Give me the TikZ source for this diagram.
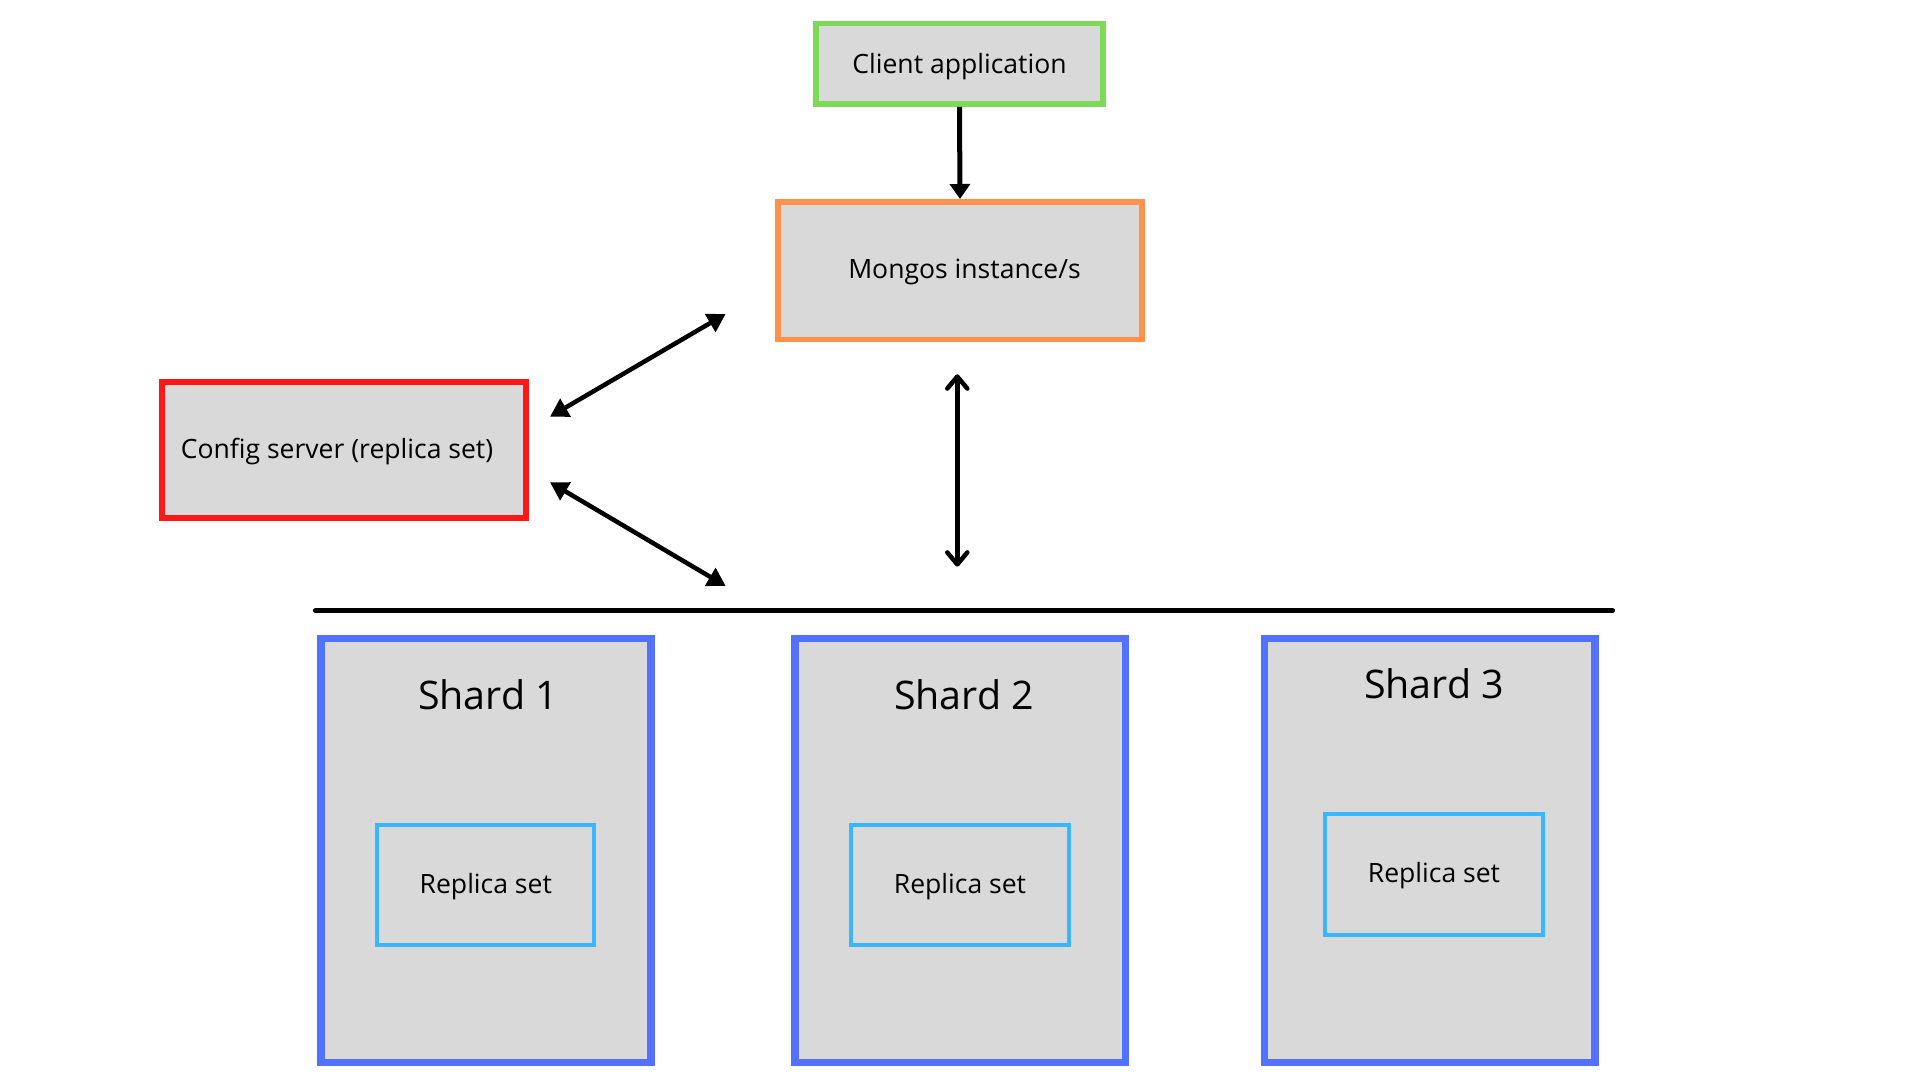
\documentclass[tikz,border=0pt]{standalone}
\usepackage{fontspec}
\setmainfont{Open Sans}
\usetikzlibrary{arrows.meta}
\definecolor{white}{RGB}{255,255,255}
\definecolor{black}{RGB}{0,0,0}
\definecolor{box_gray}{RGB}{217,217,217}
\definecolor{client_green}{RGB}{126,217,87}
\definecolor{mongos_orange}{RGB}{255,145,77}
\definecolor{config_red}{RGB}{255,22,22}
\definecolor{shard_blue}{RGB}{82,113,255}
\definecolor{replica_blue}{RGB}{56,182,255}

\begin{document}
\begin{tikzpicture}[x=0.01cm,y=-0.01cm,
	box/.style={rectangle,draw,fill=box_gray,inner sep=0pt,font=\fontsize{7.55}{9}\selectfont,text height=0.166cm,text depth=0pt},
	shard/.style={rectangle,draw=shard_blue,fill=box_gray,line width=0.073cm,minimum width=3.30cm,minimum height=4.237cm},
	replica/.style={box,draw=replica_blue,line width=0.04cm,minimum width=2.17cm,minimum height=1.206cm},
	title/.style={anchor=base,inner sep=0pt,font=\fontsize{11.2}{13}\selectfont},
	link/.style={black,line width=0.045cm,{Triangle[length=0.18cm,width=0.2cm]}-{Triangle[length=0.18cm,width=0.2cm]}}]
	\fill[white] (0,0) rectangle (1920,1080);
	\useasboundingbox (0,0) rectangle (1920,1080);

	\node[box,draw=client_green,line width=0.057cm,minimum width=2.866cm,minimum height=0.806cm,text height=0.204cm] (client) at (959.5,63.8) {Client application};
	\node[box,draw=mongos_orange,line width=0.057cm,minimum width=3.643cm,minimum height=1.376cm] (mongos) at (960,270.7) {\hspace{0.09cm}Mongos instance/s};
	\node[box,draw=config_red,line width=0.06cm,minimum width=3.64cm,minimum height=1.366cm] (config) at (344,450) {Config server (replica set)\kern0.14cm};

	\foreach \i/\x in {1/486,2/960.2,3/1429.8}
		\node[shard] (shard\i) at (\x,850.5) {};
	\foreach \i/\x/\y in {1/485.8/885,2/960/885,3/1434/874.7}
		\node[replica] (replica\i) at (\x,\y) {Replica set};
	\foreach \i/\x/\y in {1/488/709.3,2/964/709.3,3/1434/698.3}
		\node[title] (title\i) at (\x,\y) {Shard \i};

	\coordinate (bus_w) at (315.3,610.7);
	\coordinate (bus_e) at (1612.7,610.7);
	\coordinate (config_up) at (550,416.7);
	\coordinate (config_down) at (550,482.3);
	\coordinate (mongos_sw) at (725.7,314);
	\coordinate (bus_nw) at (725.7,586);
	\coordinate (mongos_s) at (957.3,374.3);
	\coordinate (bus_n) at (957.3,566.7);

	\draw[black,line width=0.05cm,-{Triangle[length=0.15cm,width=0.2cm]}] (client.south) -- (mongos.north);
	\foreach \a/\b in {config_up/mongos_sw,config_down/bus_nw}
		\draw[link] (\a) -- (\b);
	\draw[black,line width=0.045cm,{Straight Barb[length=0.12cm,width=0.2cm,round]}-{Straight Barb[length=0.12cm,width=0.2cm,round]}] (mongos_s) -- (bus_n);
	\draw[black,line width=0.047cm,line cap=round] (bus_w) -- (bus_e);
\end{tikzpicture}
\end{document}
